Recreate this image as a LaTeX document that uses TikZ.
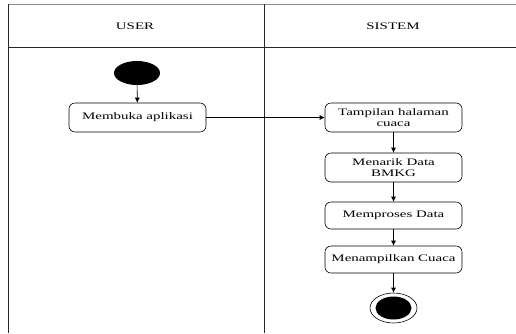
\documentclass[tikz,border=0pt]{standalone}
\usepackage{fontspec}
\setmainfont[FakeStretch=1.5]{Liberation Serif}
\usetikzlibrary{shapes.geometric,arrows.meta}
\begin{document}
\begin{tikzpicture}[x=1bp,y=-1bp,
  every node/.style={font=\fontsize{10}{11.5}\selectfont},
  act/.style={draw, rounded corners=6bp, line width=0.6pt, minimum width=137bp, minimum height=28bp, align=center, inner sep=1bp},
  lane/.style={line width=0.7pt, draw=black!85},
  flow/.style={line width=0.6pt, -{Latex[length=5bp,width=5bp]}},
  startnode/.style={ellipse, fill=black, minimum width=46bp, minimum height=24bp, inner sep=0pt},
  endouter/.style={ellipse, draw, line width=0.6pt, minimum width=47bp, minimum height=30bp, inner sep=0pt},
  endinner/.style={ellipse, fill=black, minimum width=36bp, minimum height=23bp, inner sep=0pt}]
\useasboundingbox (0,0) rectangle (516,333);
% swimlanes
\draw[line width=1pt, draw=black!45] (8,4.5) -- (516,4.5);
\draw[lane] (8,47) -- (516,47);
\draw[lane] (8,4) -- (8,333);
\draw[lane] (264,4) -- (264,333);
\node (huser) at (135,26.5) {USER};
\node (hsistem) at (393,26.5) {SISTEM};
% nodes
\node[startnode] (start) at (137,73) {};
\node[act, minimum height=29bp] (m1) at (137.5,117.5) {Membuka aplikasi};
\node[act, minimum height=29bp] (s1) at (393.5,117.5) {Tampilan halaman\\cuaca};
\node[act, minimum height=29bp] (s2) at (393.5,167.5) {Menarik Data\\BMKG};
\node[act, minimum height=27bp] (s3) at (393.5,215.5) {Memproses Data};
\node[act, minimum height=27bp] (s4) at (393.5,259.5) {Menampilkan Cuaca};
\node[endouter] (end) at (393.5,308) {};
\node[endinner] (endin) at (393.5,308) {};
% flows
\draw[flow] (start) -- (m1);
\draw[flow] (m1) -- (s1);
\draw[flow] (s1) -- (s2);
\draw[flow] (s2) -- (s3);
\draw[flow] (s3) -- (s4);
\draw[flow] (s4) -- (end);
\end{tikzpicture}
\end{document}
